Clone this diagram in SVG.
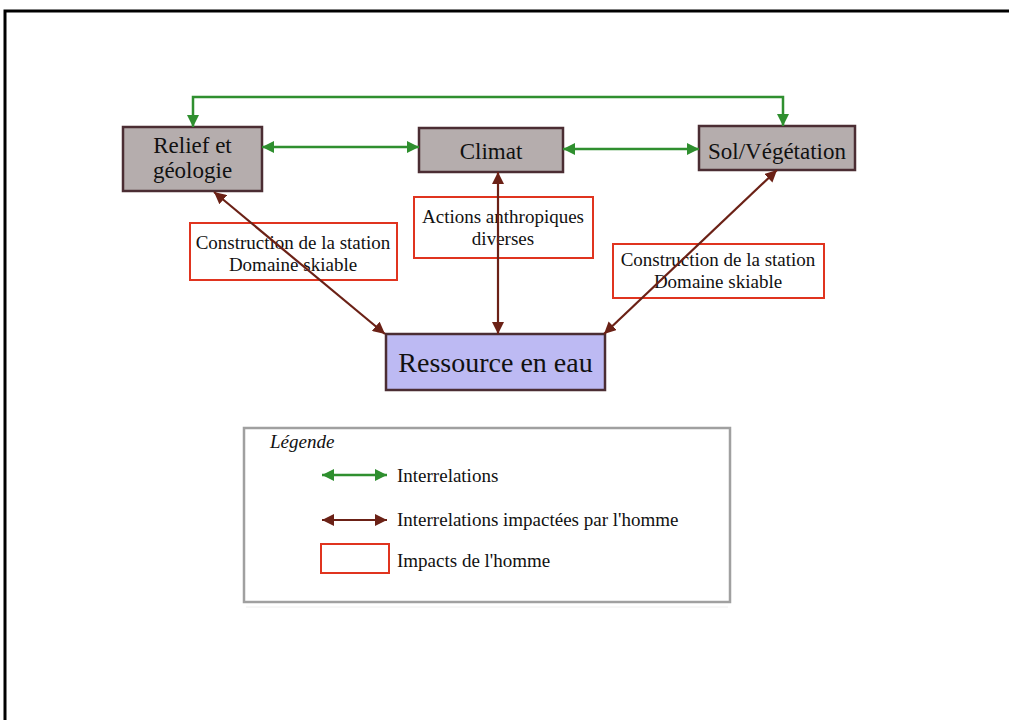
<svg xmlns="http://www.w3.org/2000/svg" width="1009" height="720" viewBox="0 0 1009 720">
<defs>
<style>
.node rect{fill:#b5adad;stroke:#4b2d33;stroke-width:2.5}
.impact rect{fill:#fff;stroke:#e0341f;stroke-width:2}
text{font-family:"Liberation Serif","Times New Roman",serif;fill:#111;text-anchor:middle}
.t23{font-size:23px}
.t19{font-size:19px}
.left{text-anchor:start}
.g{stroke:#2f8f2f;stroke-width:2.5;fill:none}
.b{stroke:#6b2116;stroke-width:2.2;fill:none}
</style>
<marker id="ag" viewBox="0 0 12 12" refX="12" refY="6" markerWidth="12" markerHeight="12" orient="auto-start-reverse" markerUnits="userSpaceOnUse"><path d="M0,0 L12,6 L0,12 z" fill="#2f8f2f"/></marker>
<marker id="ab" viewBox="0 0 12 12" refX="12" refY="6" markerWidth="12" markerHeight="12" orient="auto-start-reverse" markerUnits="userSpaceOnUse"><path d="M0,0 L12,6 L0,12 z" fill="#6b2116"/></marker>
</defs>
<rect width="1009" height="720" fill="#fff"/>
<path d="M5,720 V11 H1009" fill="none" stroke="#000" stroke-width="3"/>

<g id="relief" class="node"><rect x="123" y="127" width="139" height="64"/><text class="t23" x="192.5" y="153">Relief et</text><text class="t23" x="192.5" y="178">géologie</text></g>
<g id="climat" class="node"><rect x="419" y="128" width="144" height="44"/><text class="t23" x="491" y="159">Climat</text></g>
<g id="sol" class="node"><rect x="699" y="126" width="156" height="44"/><text class="t23" x="777" y="159">Sol/Végétation</text></g>
<g id="ressource"><rect x="386" y="334" width="219" height="56" fill="#bdbaf3" stroke="#4b2d33" stroke-width="2.5"/><text x="495.5" y="372" style="font-size:28px">Ressource en eau</text></g>

<g id="impact-left" class="impact"><rect x="190" y="223" width="207" height="57"/><text class="t19" x="293" y="249">Construction de la station</text><text class="t19" x="293" y="271">Domaine skiable</text></g>
<g id="impact-mid" class="impact"><rect x="414" y="197" width="179" height="61"/><text class="t19" x="503" y="223">Actions anthropiques</text><text class="t19" x="503" y="245">diverses</text></g>
<g id="impact-right" class="impact"><rect x="613" y="244" width="211" height="54"/><text class="t19" x="718" y="266">Construction de la station</text><text class="t19" x="718" y="288">Domaine skiable</text></g>

<g id="connectors">
<path class="g" d="M193,127 V97 H783 V126" marker-start="url(#ag)" marker-end="url(#ag)"/>
<line class="g" x1="262" y1="147" x2="419" y2="147" marker-start="url(#ag)" marker-end="url(#ag)"/>
<line class="g" x1="563" y1="149" x2="699" y2="149" marker-start="url(#ag)" marker-end="url(#ag)"/>
<line class="b" x1="214" y1="192" x2="385" y2="334" marker-start="url(#ab)" marker-end="url(#ab)"/>
<line class="b" x1="498" y1="172" x2="498" y2="334" marker-start="url(#ab)" marker-end="url(#ab)"/>
<line class="b" x1="777" y1="170" x2="604" y2="334" marker-start="url(#ab)" marker-end="url(#ab)"/>
</g>

<g id="legend">
<rect x="244" y="428" width="486" height="174" fill="#fff" stroke="#a0a0a0" stroke-width="2.5"/>
<line x1="246" y1="607" x2="728" y2="607" stroke="#eeeeee" stroke-width="1"/>
<text class="t19 left" x="270" y="448" font-style="italic">Légende</text>
<line class="g" x1="322" y1="475" x2="387" y2="475" marker-start="url(#ag)" marker-end="url(#ag)"/>
<text class="t19 left" x="397" y="482">Interrelations</text>
<line class="b" x1="322" y1="520" x2="387" y2="520" marker-start="url(#ab)" marker-end="url(#ab)"/>
<text class="t19 left" x="397" y="526">Interrelations impactées par l'homme</text>
<rect x="321" y="544" width="68" height="29" fill="#fff" stroke="#e0341f" stroke-width="2"/>
<text class="t19 left" x="397" y="567">Impacts de l'homme</text>
</g>
</svg>
